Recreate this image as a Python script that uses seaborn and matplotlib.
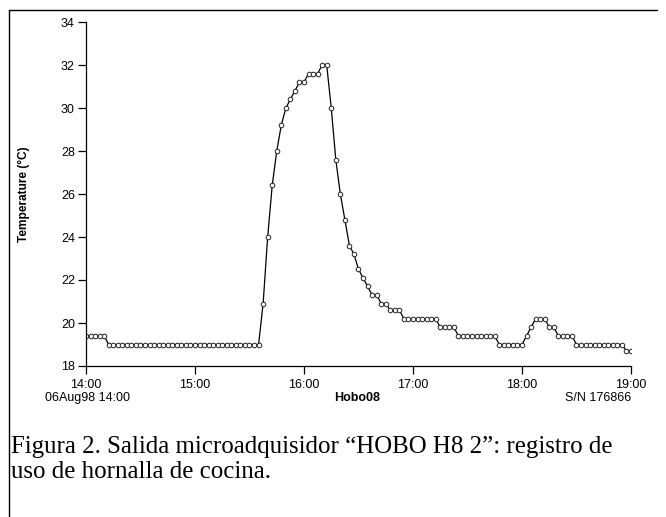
import numpy as np
import pandas as pd
import matplotlib
matplotlib.use('Agg')
import matplotlib.pyplot as plt
from matplotlib.lines import Line2D
import seaborn as sns

# ── Data: HOBO H8 logger, 06 Aug 1998, one reading every 2.5 min ──
start_time = '1998-08-06 14:00'
sample_step = '150s'
temps_c = [
    19.4, 19.4, 19.4, 19.4, 19.4,
    19.0, 19.0, 19.0, 19.0, 19.0, 19.0, 19.0, 19.0, 19.0, 19.0,
    19.0, 19.0, 19.0, 19.0, 19.0, 19.0, 19.0, 19.0, 19.0, 19.0,
    19.0, 19.0, 19.0, 19.0, 19.0, 19.0, 19.0, 19.0, 19.0, 19.0,
    19.0, 19.0, 19.0, 19.0,
    20.9, 24.0, 26.4, 28.0, 29.2, 30.0, 30.4, 30.8, 31.2, 31.2,
    31.6, 31.6, 31.6, 32.0, 32.0,
    30.0, 27.6, 26.0, 24.8, 23.6, 23.2, 22.5, 22.1, 21.7, 21.3,
    21.3, 20.9, 20.9, 20.6, 20.6, 20.6,
    20.2, 20.2, 20.2, 20.2, 20.2, 20.2, 20.2, 20.2,
    19.8, 19.8, 19.8, 19.8,
    19.4, 19.4, 19.4, 19.4, 19.4, 19.4, 19.4, 19.4, 19.4,
    19.0, 19.0, 19.0, 19.0, 19.0, 19.0,
    19.4, 19.8, 20.2, 20.2, 20.2, 19.8, 19.8,
    19.4, 19.4, 19.4, 19.4,
    19.0, 19.0, 19.0, 19.0, 19.0, 19.0, 19.0, 19.0, 19.0, 19.0, 19.0,
    18.7, 18.7,
]
y_ticks = [18, 20, 22, 24, 26, 28, 30, 32, 34]
x_tick_hours = [14, 15, 16, 17, 18, 19]
x_tick_labels = ['14:00', '15:00', '16:00', '17:00', '18:00', '19:00']

times = pd.date_range(start_time, periods=len(temps_c), freq=sample_step)
df = pd.DataFrame({'time': times, 'temp': temps_c})
df['hour'] = df['time'].dt.hour + df['time'].dt.minute / 60 + df['time'].dt.second / 3600

# ── Style ────────────────────────────────────────────────────
sns.set_style('white')
plt.rcParams['font.family'] = ['Liberation Sans', 'DejaVu Sans']
plt.rcParams['text.color'] = 'black'

W, H = 666, 517
fig = plt.figure(figsize=(W / 100, H / 100), dpi=100, facecolor='white')
ax = fig.add_axes([86 / W, (H - 366) / H, 545 / W, 344 / H])

sns.lineplot(data=df, x='hour', y='temp', ax=ax, color='black', linewidth=0.9,
             marker='o', markersize=3.3, markerfacecolor='white',
             markeredgecolor='#222222', markeredgewidth=0.7)

ax.set_xlim(14, 19)
ax.set_ylim(18, 34)
ax.set_xticks(x_tick_hours)
ax.set_xticklabels(x_tick_labels)
ax.set_yticks(y_ticks)
ax.tick_params(axis='both', direction='out', length=6, width=0.9, color='black',
               labelsize=9, labelcolor='black', pad=2, bottom=True, left=True)
ax.tick_params(axis='x', pad=3)
for side in ['top', 'right']:
    ax.spines[side].set_visible(False)
for side in ['left', 'bottom']:
    ax.spines[side].set_color('black')
    ax.spines[side].set_linewidth(0.9)

ax.set_xlabel('')
ax.set_ylabel('Temperature (°C)', fontsize=8.6, fontweight='bold', color='black')
ax.yaxis.set_label_coords(-0.103, 0.5)

# footer under the axis
fig.text(45 / W, 1 - 398 / H, '06Aug98 14:00', fontsize=9, ha='left', va='center', color='black')
fig.text(357 / W, 1 - 398 / H, 'Hobo08', fontsize=9, fontweight='bold', ha='center', va='center',
         color='black')
fig.text(631 / W, 1 - 398 / H, 'S/N 176866', fontsize=9, ha='right', va='center', color='black')

# caption
cap_font = {'family': ['Liberation Serif', 'DejaVu Serif'], 'size': 17.9, 'color': 'black'}
fig.text(11 / W, 1 - 453 / H, 'Figura 2. Salida microadquisidor \u201cHOBO H8 2\u201d: registro de',
         fontdict=cap_font, ha='left', va='baseline')
fig.text(11 / W, 1 - 478 / H, 'uso de hornalla de cocina.',
         fontdict=cap_font, ha='left', va='baseline')

# frame around figure (top and left edges)
fig.add_artist(Line2D([8.5 / W, 657 / W], [1 - 10 / H, 1 - 10 / H], color='black', linewidth=1))
fig.add_artist(Line2D([8.5 / W, 8.5 / W], [1 - 10 / H, 0], color='black', linewidth=1))

fig.savefig('out.png', dpi=100, facecolor='white')
